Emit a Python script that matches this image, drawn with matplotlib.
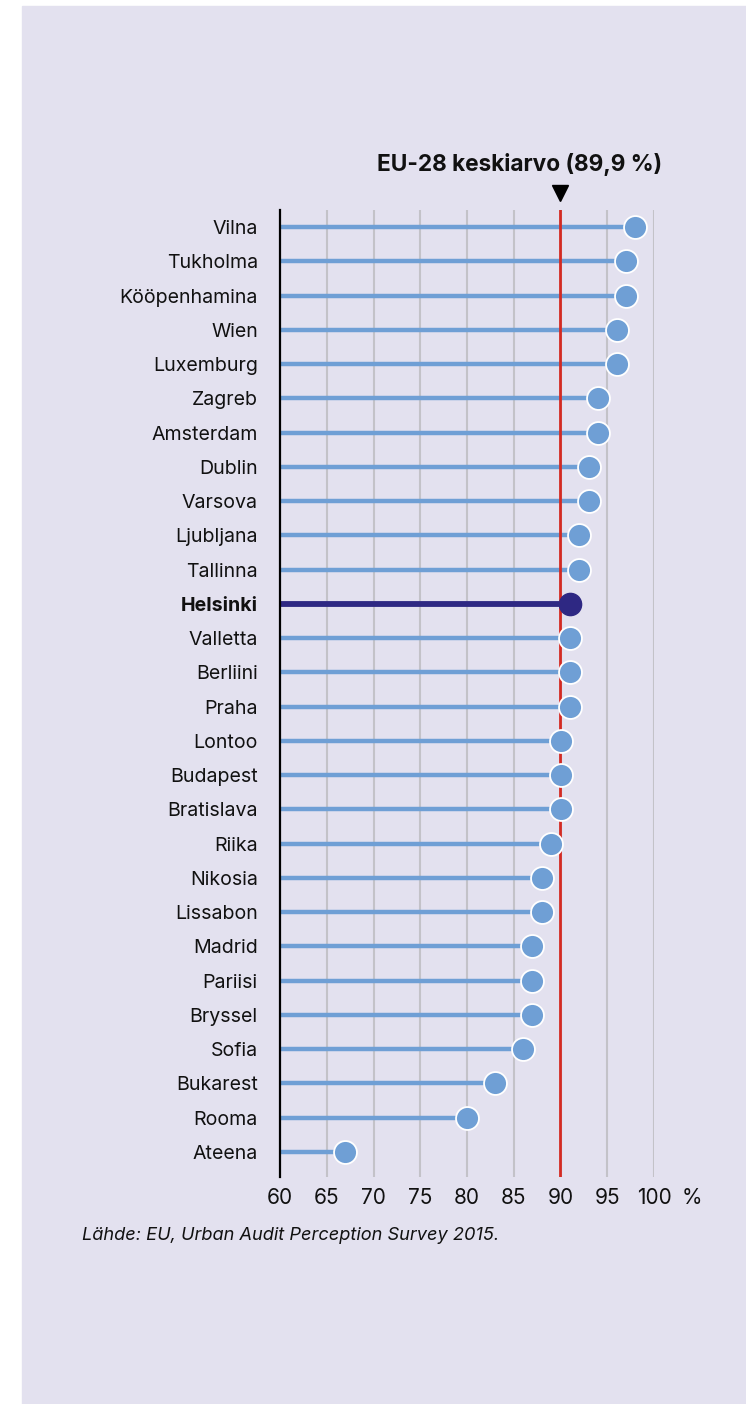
import matplotlib
matplotlib.use("Agg")
import matplotlib.pyplot as plt
from matplotlib.patches import Rectangle

plt.rcParams['font.family'] = ['Inter', 'DejaVu Sans']

cities = ["Vilna", "Tukholma", "Kööpenhamina", "Wien", "Luxemburg", "Zagreb",
          "Amsterdam", "Dublin", "Varsova", "Ljubljana", "Tallinna", "Helsinki",
          "Valletta", "Berliini", "Praha", "Lontoo", "Budapest", "Bratislava",
          "Riika", "Nikosia", "Lissabon", "Madrid", "Pariisi", "Bryssel", "Sofia",
          "Bukarest", "Rooma", "Ateena"]
values = [98, 97, 97, 96, 96, 94, 94, 93, 93, 92, 92, 91, 91, 91, 91, 90, 90, 90,
          89, 88, 88, 87, 87, 87, 86, 83, 80, 67]
highlight = "Helsinki"
eu_avg = 89.9
xticks = [60, 65, 70, 75, 80, 85, 90, 95, 100]
title = "EU-28 keskiarvo (89,9 %)"
source = "Lähde: EU, Urban Audit Perception Survey 2015."

BG = "#e3e1ef"
BLUE = "#6f9fd5"
NAVY = "#2e2883"
GRID = "#c3c2c8"
RED = "#d42a22"

W, H = 746, 1404
fig = plt.figure(figsize=(W / 100, H / 100), dpi=100, facecolor="white")
fig.patches.append(Rectangle((22 / W, 0), 1 - 22 / W, 1 - 6 / H,
                             transform=fig.transFigure, color=BG, zorder=-10))

left, right, top, bottom = 280, 654, 210, 1177
ax = fig.add_axes([left / W, 1 - bottom / H, (right - left) / W, (bottom - top) / H])
ax.set_facecolor("none")
ax.set_xlim(60, 100)
n = len(cities)
ax.set_ylim(n - 1 + 0.73, -0.5)

for sp in ["top", "right", "bottom"]:
    ax.spines[sp].set_visible(False)
ax.spines["left"].set_color("black")
ax.spines["left"].set_linewidth(1.6)
ax.spines["left"].set_zorder(4)

ax.set_xticks(xticks)
ax.set_xticklabels([str(t) for t in xticks])
ax.tick_params(axis="x", length=0, pad=8, labelsize=15, labelcolor="#111111")
ax.set_yticks(range(n))
ax.set_yticklabels(cities)
ax.tick_params(axis="y", length=0, pad=16, labelsize=14.1, labelcolor="#111111")
for lab in ax.get_yticklabels():
    if lab.get_text() == highlight:
        lab.set_fontweight("bold")

ax.annotate("%", xy=(100, 0), xycoords=("data", "axes fraction"),
            xytext=(20, -8), textcoords="offset points", ha="left", va="top",
            fontsize=15, color="#111111")

for t in xticks[1:]:
    ax.axvline(t, color=GRID, lw=1.5, zorder=0)

for i, (c, v) in enumerate(zip(cities, values)):
    if c == highlight:
        ax.plot([59.8, v], [i, i], color=NAVY, lw=4.2, solid_capstyle="butt", zorder=2)
        ax.plot(v, i, "o", ms=16, mfc=NAVY, mec=NAVY, mew=1, zorder=5, clip_on=False)
    else:
        ax.plot([60, v], [i, i], color=BLUE, lw=3.2, solid_capstyle="butt", zorder=2)
        ax.plot(v, i, "o", ms=16.5, mfc=BLUE, mec="white", mew=1.3, zorder=5, clip_on=False)

ax.axvline(eu_avg, color=RED, lw=2, zorder=3)

ax.plot([eu_avg], [1 + 17 / (bottom - top)], marker="v", ms=11, color="black",
        transform=ax.get_xaxis_transform(), clip_on=False, zorder=6)

fig.text(520 / W, 1 - 165 / H, title, ha="center", va="center", fontsize=16.3,
         fontweight="bold", color="#111111")
fig.text(82 / W, 1 - 1236 / H, source, ha="left", va="center", fontsize=13.1,
         style="italic", color="#111111")

fig.savefig("out.png", dpi=100, facecolor="white")
